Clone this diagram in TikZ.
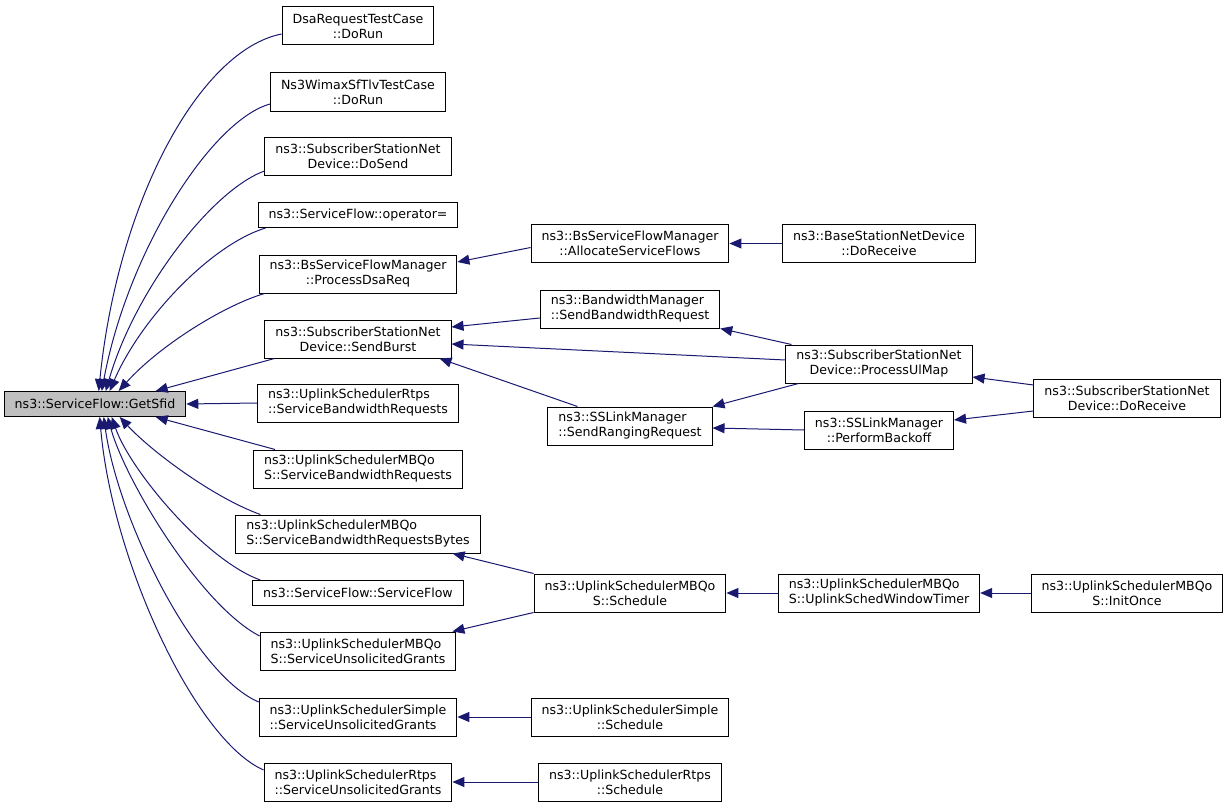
\documentclass[tikz,border=0pt]{standalone}
\usepackage{fontspec}
\setmainfont{DejaVu Sans}
\usetikzlibrary{arrows.meta,calc}
\definecolor{edgecol}{HTML}{191970}
\definecolor{hilite}{HTML}{BFBFBF}
\begin{document}
\begin{tikzpicture}[x=1pt,y=-1pt,
  box/.style={draw=black, line width=1pt, fill=white, inner xsep=10.5pt, inner ysep=0pt,
    font=\fontsize{12.6}{15}\selectfont},
  one/.style={box, minimum height=25pt},
  two/.style={box, minimum height=38pt, align=center},
  twol/.style={box, minimum height=38pt, align=left},
  call/.style={draw=edgecol, line width=1pt, -{Triangle[length=12pt,width=10pt]}}]
\useasboundingbox (0,0) rectangle (1229,808);

% column 1
\node[one, fill=hilite] (sfid) at (95,404) {ns3::ServiceFlow::GetSfid};

% column 2
\node[two]  (dsa)     at (358,26)  {DsaRequestTestCase\\::DoRun};
\node[two]  (wimax)   at (358,92)  {Ns3WimaxSfTlvTestCase\\::DoRun};
\node[two]  (dosend)  at (358,156) {ns3::SubscriberStationNet\\Device::DoSend};
\node[one]  (opeq)    at (358,215) {ns3::ServiceFlow::operator=};
\node[two]  (dsareq)  at (358,274) {ns3::BsServiceFlowManager\\::ProcessDsaReq};
\node[two]  (burst)   at (358,339) {ns3::SubscriberStationNet\\Device::SendBurst};
\node[twol] (rtpsbw)  at (358,403) {ns3::UplinkSchedulerRtps\\::ServiceBandwidthRequests};
\node[twol] (mbqbw)   at (358,469) {ns3::UplinkSchedulerMBQo\\S::ServiceBandwidthRequests};
\node[twol] (bytes)   at (358,534) {ns3::UplinkSchedulerMBQo\\S::ServiceBandwidthRequestsBytes};
\node[one]  (sfctor)  at (358,593) {ns3::ServiceFlow::ServiceFlow};
\node[twol] (mbqusg)  at (358,651) {ns3::UplinkSchedulerMBQo\\S::ServiceUnsolicitedGrants};
\node[twol] (simusg)  at (358,717) {ns3::UplinkSchedulerSimple\\::ServiceUnsolicitedGrants};
\node[twol] (rtpsusg) at (358,782) {ns3::UplinkSchedulerRtps\\::ServiceUnsolicitedGrants};

% column 3
\node[two]  (alloc)     at (630,243.5) {ns3::BsServiceFlowManager\\::AllocateServiceFlows};
\node[twol] (bwreq)     at (630,309)   {ns3::BandwidthManager\\::SendBandwidthRequest};
\node[twol] (ranging)   at (630,426)   {ns3::SSLinkManager\\::SendRangingRequest};
\node[two]  (mbqsched)  at (630,593)   {ns3::UplinkSchedulerMBQo\\S::Schedule};
\node[two]  (simsched)  at (630,717)   {ns3::UplinkSchedulerSimple\\::Schedule};
\node[two]  (rtpssched) at (630,782)   {ns3::UplinkSchedulerRtps\\::Schedule};

% column 4
\node[two]  (bsdorecv) at (879,243.5) {ns3::BaseStationNetDevice\\::DoReceive};
\node[two]  (ulmap)    at (879,364)   {ns3::SubscriberStationNet\\Device::ProcessUlMap};
\node[two]  (backoff)  at (879,430)   {ns3::SSLinkManager\\::PerformBackoff};
\node[twol] (timer)    at (879,593)   {ns3::UplinkSchedulerMBQo\\S::UplinkSchedWindowTimer};

% column 5
\node[two] (ssdorecv) at (1127,398) {ns3::SubscriberStationNet\\Device::DoReceive};
\node[two] (initonce) at (1127,593) {ns3::UplinkSchedulerMBQo\\S::InitOnce};

% edges into GetSfid (top)
\draw[call] ($(dsa.west)+(0,8)$) .. controls (200,50) and (118,200) .. ($(sfid.north west)+(95,0)$);
\draw[call] ($(wimax.west)+(0,12)$) .. controls (212,120) and (128,250) .. ($(sfid.north west)+(98,0)$);
\draw[call] ($(dosend.west)+(0,15)$) .. controls (212,190) and (135,290) .. ($(sfid.north west)+(102,0)$);
\draw[call] ($(opeq.south west)+(8,0)$) .. controls (210,245) and (140,320) .. ($(sfid.north west)+(106,0)$);
\draw[call] ($(dsareq.south west)+(6,0)$) .. controls (225,305) and (160,345) .. ($(sfid.north west)+(115,0)$);
\draw[call] ($(burst.south west)+(10,0)$) -- ($(sfid.north west)+(152,0)$);
\draw[call] (rtpsbw.west) -- (sfid.east);
% edges into GetSfid (bottom)
\draw[call] ($(mbqbw.north west)+(22,0)$) -- ($(sfid.south west)+(152,0)$);
\draw[call] ($(bytes.north west)+(25,0)$) .. controls (212,497) and (150,450) .. ($(sfid.south west)+(116,0)$);
\draw[call] ($(sfctor.north west)+(8,0)$) .. controls (205,560) and (130,470) .. ($(sfid.south west)+(108,0)$);
\draw[call] ($(mbqusg.west)+(0,-15)$) .. controls (200,605) and (125,480) .. ($(sfid.south west)+(104,0)$);
\draw[call] ($(simusg.west)+(0,-15)$) .. controls (195,675) and (118,520) .. ($(sfid.south west)+(100,0)$);
\draw[call] ($(rtpsusg.west)+(0,-12)$) .. controls (195,740) and (112,560) .. ($(sfid.south west)+(96,0)$);

% other edges
\draw[call] (bsdorecv.west) -- (alloc.east);
\draw[call] ($(alloc.west)+(0,4)$) -- ($(dsareq.east)+(0,-12)$);
\draw[call] ($(bwreq.west)+(0,9)$) -- ($(burst.east)+(0,-12)$);
\draw[call] ($(ulmap.west)+(0,-4)$) -- ($(burst.east)+(0,5)$);
\draw[call] ($(ranging.north west)+(30,0)$) -- ($(burst.south east)+(-12,0)$);
\draw[call] ($(ulmap.north west)+(6,0)$) -- (bwreq.south east);
\draw[call] ($(ulmap.south west)+(13,0)$) -- (ranging.north east);
\draw[call] (backoff.west) -- ($(ranging.east)+(0,2)$);
\draw[call] ($(ssdorecv.west)+(0,-13)$) -- ($(ulmap.east)+(0,13)$);
\draw[call] ($(ssdorecv.west)+(0,13)$) -- ($(backoff.east)+(0,-10)$);
\draw[call] (mbqsched.north west) -- ($(bytes.south east)+(-28,0)$);
\draw[call] (mbqsched.south west) -- ($(mbqusg.north east)+(-4,0)$);
\draw[call] (timer.west) -- (mbqsched.east);
\draw[call] (initonce.west) -- (timer.east);
\draw[call] (simsched.west) -- (simusg.east);
\draw[call] (rtpssched.west) -- (rtpsusg.east);
\end{tikzpicture}
\end{document}
